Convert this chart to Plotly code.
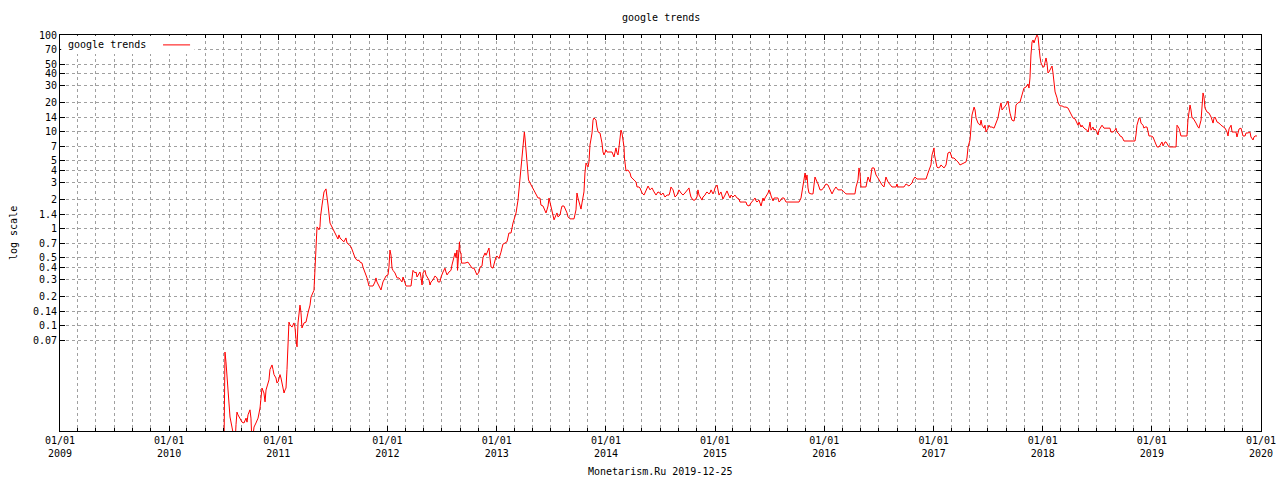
import numpy as np
import pandas as pd
import plotly.graph_objects as go

# ---- data (decimal year, search-interest value) ----
years_2010_2011 = [
    2010.502, 2010.511, 2010.520, 2010.530, 2010.539, 2010.548, 2010.557, 2010.575, 2010.594, 2010.603,
    2010.612, 2010.621, 2010.630, 2010.649, 2010.667, 2010.685, 2010.704, 2010.713, 2010.722, 2010.740,
    2010.749, 2010.759, 2010.777, 2010.795, 2010.814, 2010.832, 2010.841, 2010.850, 2010.868, 2010.878,
    2010.887, 2010.905, 2010.914, 2010.923, 2010.942, 2010.951, 2010.960, 2010.978, 2010.987, 2010.997,
    2011.015, 2011.024, 2011.033, 2011.052, 2011.061, 2011.070, 2011.079, 2011.088, 2011.097, 2011.107,
    2011.125, 2011.143, 2011.152, 2011.162, 2011.171, 2011.180, 2011.198, 2011.207, 2011.216, 2011.235,
    2011.253, 2011.271, 2011.290, 2011.299, 2011.308, 2011.326, 2011.336, 2011.345, 2011.349, 2011.354,
    2011.363, 2011.372, 2011.381, 2011.386, 2011.400, 2011.409, 2011.418, 2011.436, 2011.445, 2011.455,
    2011.473, 2011.491, 2011.510, 2011.528, 2011.546, 2011.555, 2011.565, 2011.583, 2011.601,
]
values_2010_2011 = [
    0.005, 0.053, 0.042, 0.030, 0.0225, 0.017, 0.0113, 0.0089, 0.006, 0.006,
    0.0094, 0.0127, 0.0119, 0.011, 0.010, 0.0098, 0.011, 0.010, 0.0119, 0.0134,
    0.011, 0.006, 0.0089, 0.0098, 0.011, 0.014, 0.0178, 0.0225, 0.020, 0.0162,
    0.0215, 0.0254, 0.0273, 0.035, 0.039, 0.035, 0.031, 0.0286, 0.0254, 0.026,
    0.031, 0.0286, 0.0254, 0.020, 0.0215, 0.0225, 0.035, 0.074, 0.108, 0.101,
    0.096, 0.106, 0.096, 0.071, 0.060, 0.106, 0.162, 0.137, 0.094, 0.106,
    0.108, 0.134, 0.162, 0.196, 0.206, 0.23, 0.39, 0.56, 0.73, 1.04,
    1.01, 0.97, 1.04, 1.32, 1.75, 2.12, 2.39, 2.57, 2.22, 1.75,
    1.14, 1.04, 0.97, 0.86, 0.78, 0.86, 0.80, 0.76, 0.73,
]

years_2011_2012 = [
    2011.619, 2011.629, 2011.647, 2011.665, 2011.684, 2011.702, 2011.720, 2011.739, 2011.748, 2011.766,
    2011.775, 2011.794, 2011.812, 2011.830, 2011.849, 2011.867, 2011.885, 2011.894, 2011.903, 2011.922,
    2011.940, 2011.949, 2011.958, 2011.977, 2011.986, 2012.004, 2012.013, 2012.022, 2012.032, 2012.041,
    2012.050, 2012.068, 2012.087, 2012.105, 2012.123, 2012.132, 2012.142, 2012.151, 2012.169, 2012.187,
    2012.215, 2012.224, 2012.233, 2012.252, 2012.261, 2012.270, 2012.288, 2012.297, 2012.306, 2012.316,
    2012.325, 2012.343, 2012.352, 2012.361, 2012.380, 2012.389, 2012.398, 2012.416, 2012.425, 2012.435,
    2012.453, 2012.462, 2012.480, 2012.490, 2012.508, 2012.526, 2012.535, 2012.545, 2012.563, 2012.581,
    2012.590, 2012.599, 2012.618, 2012.627, 2012.636, 2012.641, 2012.645, 2012.655, 2012.659, 2012.664,
    2012.673, 2012.677, 2012.691, 2012.709, 2012.737, 2012.755, 2012.774, 2012.792, 2012.801, 2012.819,
    2012.838, 2012.847, 2012.865, 2012.874, 2012.893, 2012.902, 2012.911, 2012.929, 2012.938, 2012.948,
    2012.966, 2012.984, 2012.993,
]
values_2011_2012 = [
    0.80, 0.71, 0.68, 0.65, 0.57, 0.50, 0.47, 0.47, 0.45, 0.44,
    0.40, 0.348, 0.309, 0.255, 0.255, 0.255, 0.281, 0.309, 0.281, 0.255,
    0.232, 0.255, 0.281, 0.309, 0.324, 0.332, 0.40, 0.60, 0.53, 0.39,
    0.37, 0.348, 0.309, 0.309, 0.294, 0.281, 0.316, 0.294, 0.255, 0.255,
    0.255, 0.309, 0.37, 0.348, 0.356, 0.316, 0.348, 0.356, 0.316, 0.261,
    0.348, 0.37, 0.332, 0.316, 0.294, 0.261, 0.281, 0.294, 0.316, 0.324,
    0.309, 0.281, 0.281, 0.316, 0.356, 0.39, 0.356, 0.332, 0.356, 0.37,
    0.42, 0.47, 0.56, 0.50, 0.60, 0.37, 0.47, 0.65, 0.73, 0.57,
    0.56, 0.44, 0.44, 0.44, 0.45, 0.42, 0.39, 0.39, 0.365, 0.332,
    0.356, 0.40, 0.41, 0.50, 0.56, 0.53, 0.56, 0.63, 0.50, 0.40,
    0.39, 0.45, 0.51,
]

years_2013_2015 = [
    2013.003, 2013.021, 2013.039, 2013.057, 2013.076, 2013.094, 2013.112, 2013.131, 2013.149, 2013.167,
    2013.177, 2013.195, 2013.204, 2013.213, 2013.222, 2013.231, 2013.241, 2013.247, 2013.253, 2013.259,
    2013.268, 2013.277, 2013.287, 2013.291, 2013.305, 2013.323, 2013.341, 2013.360, 2013.378, 2013.396,
    2013.405, 2013.424, 2013.433, 2013.451, 2013.460, 2013.470, 2013.479, 2013.488, 2013.506, 2013.515,
    2013.525, 2013.543, 2013.552, 2013.561, 2013.580, 2013.589, 2013.598, 2013.616, 2013.635, 2013.644,
    2013.653, 2013.671, 2013.689, 2013.708, 2013.726, 2013.735, 2013.744, 2013.763, 2013.772, 2013.781,
    2013.799, 2013.808, 2013.818, 2013.827, 2013.836, 2013.845, 2013.854, 2013.873, 2013.882, 2013.891,
    2013.909, 2013.918, 2013.928, 2013.946, 2013.964, 2013.973, 2013.983, 2014.001, 2014.010, 2014.028,
    2014.047, 2014.056, 2014.074, 2014.092, 2014.102, 2014.111, 2014.120, 2014.129, 2014.138, 2014.147,
    2014.157, 2014.166, 2014.170, 2014.175, 2014.184, 2014.202, 2014.221, 2014.230, 2014.239, 2014.257,
    2014.276, 2014.285, 2014.303, 2014.312, 2014.331, 2014.349, 2014.367, 2014.386, 2014.404, 2014.422,
    2014.441, 2014.459, 2014.477, 2014.495, 2014.505, 2014.523, 2014.532, 2014.541, 2014.560, 2014.578,
    2014.587, 2014.596, 2014.615, 2014.624, 2014.633, 2014.651, 2014.660, 2014.669, 2014.688, 2014.706,
    2014.724, 2014.743, 2014.761, 2014.770, 2014.779, 2014.798, 2014.816, 2014.834, 2014.843, 2014.853,
    2014.871, 2014.880, 2014.889, 2014.908, 2014.917, 2014.926, 2014.944, 2014.953, 2014.963, 2014.981,
    2014.990, 2014.999, 2015.018, 2015.027, 2015.036, 2015.054, 2015.063, 2015.072, 2015.091, 2015.100,
    2015.109, 2015.128, 2015.137, 2015.146, 2015.164, 2015.182, 2015.201, 2015.219, 2015.228, 2015.247,
    2015.265, 2015.283, 2015.292, 2015.311, 2015.329, 2015.347, 2015.366, 2015.375, 2015.384, 2015.402,
    2015.412, 2015.421, 2015.439, 2015.448, 2015.457, 2015.476, 2015.485, 2015.494, 2015.503, 2015.513,
    2015.531, 2015.540, 2015.558, 2015.576, 2015.586, 2015.604, 2015.613, 2015.631, 2015.650, 2015.668,
    2015.695, 2015.714, 2015.741, 2015.769, 2015.787, 2015.796, 2015.805, 2015.815, 2015.824, 2015.833,
    2015.842, 2015.851, 2015.860, 2015.879, 2015.897, 2015.906, 2015.915, 2015.934, 2015.943, 2015.961,
    2015.979, 2015.998,
]
values_2013_2015 = [
    0.52, 0.49, 0.57, 0.69, 0.71, 0.73, 0.90, 0.90, 1.14, 1.29,
    1.45, 1.97, 2.57, 3.03, 3.84, 4.88, 6.49, 8.63, 9.95, 8.63,
    6.49, 5.11, 3.84, 3.18, 2.96, 2.69, 2.45, 2.22, 2.07, 2.07,
    1.75, 1.71, 1.63, 1.45, 1.56, 1.71, 2.07, 1.84, 1.56, 1.38,
    1.23, 1.38, 1.45, 1.32, 1.38, 1.56, 1.71, 1.71, 1.56, 1.45,
    1.32, 1.26, 1.26, 1.26, 1.56, 2.33, 2.07, 1.67, 1.59, 1.84,
    2.39, 3.75, 4.76, 4.54, 4.33, 4.88, 7.30, 9.72, 13.2, 13.9,
    13.2, 11.2, 9.95, 9.72, 7.66, 6.18, 5.76, 6.49, 6.18, 6.18,
    6.18, 6.18, 5.49, 6.81, 6.04, 5.76, 6.97, 8.63, 10.4, 9.72,
    8.23, 6.97, 5.36, 4.54, 3.94, 4.03, 3.75, 3.41, 3.33, 3.18,
    3.03, 2.69, 2.69, 2.63, 2.33, 2.22, 2.51, 2.75, 2.51, 2.63,
    2.39, 2.22, 2.39, 2.33, 2.22, 2.33, 2.22, 2.12, 2.22, 2.22,
    2.39, 2.69, 2.51, 2.33, 2.12, 2.22, 2.39, 2.51, 2.33, 2.22,
    2.33, 2.51, 2.63, 2.33, 2.12, 1.97, 1.97, 2.12, 2.51, 2.22,
    2.07, 1.97, 2.12, 2.22, 2.33, 2.39, 2.28, 2.33, 2.51, 2.28,
    2.39, 2.63, 2.82, 2.51, 2.22, 2.39, 2.12, 2.02, 2.22, 2.33,
    2.45, 2.17, 2.07, 2.22, 2.12, 2.22, 2.07, 2.02, 1.88, 1.88,
    1.88, 1.88, 1.75, 1.71, 1.84, 1.93, 2.07, 1.93, 1.88, 1.97,
    1.84, 1.71, 2.07, 1.93, 2.07, 2.22, 2.33, 2.51, 2.39, 2.17,
    1.93, 2.07, 2.07, 2.07, 1.88, 1.97, 2.07, 2.07, 1.88, 1.88,
    1.88, 1.88, 1.88, 1.88, 2.07, 2.39, 2.82, 3.41, 3.75, 3.18,
    3.58, 2.63, 2.33, 2.28, 2.28, 2.82, 3.41, 3.03, 2.89, 2.51,
    2.51, 2.69,
]

years_2016_2017 = [
    2016.016, 2016.034, 2016.053, 2016.071, 2016.089, 2016.107, 2016.126, 2016.144, 2016.162, 2016.181,
    2016.199, 2016.217, 2016.254, 2016.281, 2016.291, 2016.309, 2016.318, 2016.327, 2016.336, 2016.355,
    2016.382, 2016.391, 2016.401, 2016.419, 2016.428, 2016.437, 2016.456, 2016.474, 2016.492, 2016.510,
    2016.529, 2016.547, 2016.556, 2016.565, 2016.584, 2016.602, 2016.620, 2016.639, 2016.657, 2016.666,
    2016.675, 2016.694, 2016.712, 2016.730, 2016.749, 2016.767, 2016.776, 2016.785, 2016.804, 2016.813,
    2016.831, 2016.849, 2016.868, 2016.895, 2016.913, 2016.932, 2016.950, 2016.968, 2016.977, 2016.987,
    2017.005, 2017.010, 2017.023, 2017.032, 2017.042, 2017.060, 2017.069, 2017.078, 2017.097, 2017.115,
    2017.124, 2017.133, 2017.152, 2017.161, 2017.170, 2017.188, 2017.207, 2017.225, 2017.243, 2017.262,
    2017.280, 2017.298, 2017.307, 2017.317, 2017.335, 2017.344, 2017.353, 2017.372, 2017.381, 2017.390,
    2017.408, 2017.427, 2017.436, 2017.445, 2017.463, 2017.472, 2017.482, 2017.500, 2017.509, 2017.518,
    2017.536, 2017.555, 2017.573, 2017.591, 2017.609, 2017.619, 2017.628, 2017.646, 2017.664, 2017.683,
    2017.692, 2017.701, 2017.719, 2017.738, 2017.747, 2017.756, 2017.774, 2017.793, 2017.811, 2017.829,
    2017.848, 2017.866, 2017.875, 2017.884, 2017.893, 2017.903, 2017.912, 2017.921, 2017.930, 2017.939,
    2017.948, 2017.958, 2017.967, 2017.976, 2017.985,
]
values_2016_2017 = [
    2.89, 2.82, 2.51, 2.28, 2.51, 2.69, 2.51, 2.51, 2.51, 2.39,
    2.28, 2.28, 2.28, 2.28, 2.69, 3.18, 4.23, 3.75, 2.69, 2.69,
    2.69, 3.03, 3.41, 3.03, 3.75, 4.23, 4.23, 3.58, 3.33, 3.03,
    2.82, 2.69, 2.96, 3.41, 3.03, 2.89, 2.69, 2.69, 2.69, 2.89,
    2.69, 2.69, 2.69, 2.69, 2.89, 2.82, 2.75, 2.82, 2.96, 3.18,
    3.41, 3.25, 3.25, 3.25, 3.25, 3.25, 3.75, 4.23, 4.54, 5.76,
    6.81, 5.76, 4.88, 4.33, 4.23, 4.33, 4.54, 4.43, 4.23, 4.54,
    5.36, 6.04, 6.18, 5.76, 5.36, 5.36, 5.11, 4.88, 4.54, 4.65,
    4.76, 4.88, 5.36, 6.97, 8.23, 11.2, 14.9, 18.0, 16.8, 13.9,
    12.3, 11.7, 13.2, 11.7, 10.9, 11.7, 9.95, 10.9, 11.7, 11.2,
    11.2, 10.9, 12.3, 13.9, 18.0, 19.9, 16.8, 17.6, 18.9, 20.8,
    18.0, 15.6, 13.2, 12.9, 14.6, 18.9, 19.9, 20.3, 24.0, 28.3,
    29.0, 31.2, 28.3, 36.0, 62.1, 84.7, 88.8, 82.7, 88.8, 95.3,
    100.0, 95.3, 70.0, 59.3, 51.4,
]

years_2018_2019 = [
    2018.003, 2018.012, 2018.022, 2018.031, 2018.040, 2018.049, 2018.058, 2018.077, 2018.086, 2018.095,
    2018.104, 2018.114, 2018.132, 2018.141, 2018.159, 2018.178, 2018.196, 2018.214, 2018.232, 2018.251,
    2018.269, 2018.278, 2018.297, 2018.315, 2018.324, 2018.333, 2018.352, 2018.361, 2018.370, 2018.388,
    2018.406, 2018.416, 2018.425, 2018.434, 2018.443, 2018.461, 2018.471, 2018.480, 2018.498, 2018.507,
    2018.516, 2018.535, 2018.544, 2018.562, 2018.581, 2018.599, 2018.617, 2018.626, 2018.645, 2018.663,
    2018.672, 2018.681, 2018.700, 2018.709, 2018.727, 2018.745, 2018.773, 2018.800, 2018.828, 2018.846,
    2018.855, 2018.864, 2018.883, 2018.892, 2018.901, 2018.919, 2018.928, 2018.938, 2018.956, 2018.965,
    2018.974, 2018.993, 2019.011, 2019.029, 2019.039, 2019.048, 2019.066, 2019.084, 2019.093, 2019.103,
    2019.121, 2019.130, 2019.139, 2019.158, 2019.176, 2019.194, 2019.212, 2019.222, 2019.231, 2019.249,
    2019.258, 2019.267, 2019.286, 2019.304, 2019.322, 2019.331, 2019.341, 2019.350, 2019.359, 2019.368,
    2019.377, 2019.396, 2019.405, 2019.423, 2019.432, 2019.451, 2019.460, 2019.469, 2019.478, 2019.487,
    2019.506, 2019.524, 2019.543, 2019.561, 2019.570, 2019.579, 2019.598, 2019.616, 2019.634, 2019.652,
    2019.671, 2019.689, 2019.698, 2019.707, 2019.726, 2019.735, 2019.753, 2019.771, 2019.780, 2019.799,
    2019.817, 2019.826, 2019.835, 2019.854, 2019.863, 2019.881, 2019.899, 2019.908, 2019.927, 2019.936,
    2019.945, 2019.963,
]
values_2018_2019 = [
    46.7, 46.7, 55.2, 57.9, 51.4, 40.5, 41.5, 45.6, 47.8, 40.5,
    32.7, 25.8, 22.4, 19.9, 18.5, 18.5, 18.0, 18.0, 17.6, 16.0,
    14.9, 13.9, 13.6, 12.3, 11.7, 12.6, 11.2, 11.7, 11.2, 10.7,
    10.4, 9.95, 11.7, 12.6, 10.4, 11.2, 10.4, 10.7, 9.95, 9.27,
    10.4, 11.2, 11.7, 10.9, 10.9, 10.9, 10.9, 9.95, 9.95, 10.4,
    10.9, 9.95, 9.49, 9.05, 8.84, 8.03, 8.03, 8.03, 8.03, 8.03,
    9.27, 11.7, 13.9, 13.9, 12.3, 11.7, 10.9, 11.2, 11.2, 9.95,
    9.05, 9.05, 8.84, 7.85, 7.30, 6.97, 6.97, 7.66, 7.85, 7.14,
    7.85, 7.85, 7.48, 6.97, 6.97, 6.97, 6.97, 6.97, 11.7, 10.9,
    9.95, 9.05, 9.05, 9.05, 9.05, 13.2, 15.6, 18.9, 16.8, 13.9,
    13.9, 12.9, 12.3, 11.2, 10.9, 13.2, 21.3, 25.2, 22.9, 17.6,
    16.0, 15.6, 14.2, 12.3, 13.9, 14.2, 12.6, 12.3, 11.7, 11.2,
    10.9, 9.95, 9.05, 10.7, 11.7, 9.95, 9.95, 9.95, 8.84, 10.7,
    10.9, 9.95, 9.05, 9.05, 9.72, 9.72, 9.95, 8.84, 8.23, 8.84,
    9.05, 9.05,
]

year_ticks = list(range(2009, 2021))
y_tick_values = [0.07, 0.1, 0.14, 0.2, 0.3, 0.4, 0.5, 0.7, 1, 1.4, 2, 3, 4, 5, 7, 10, 14, 20, 30, 40, 50, 70, 100]
y_tick_labels = ["0.07", "0.1", "0.14", "0.2", "0.3", "0.4", "0.5", "0.7", "1", "1.4", "2", "3", "4", "5",
                 "7", "10", "14", "20", "30", "40", "50", "70", "100"]

# ---- build series ----
years = np.array(years_2010_2011 + years_2011_2012 + years_2013_2015 + years_2016_2017 + years_2018_2019)
values = np.array(values_2010_2011 + values_2011_2012 + values_2013_2015 + values_2016_2017 + values_2018_2019)
base = pd.Timestamp("2009-01-01")
dates = base + pd.to_timedelta((years - 2009) * 365.18, unit="D")

FONT = "DejaVu Sans Mono"
GRID = "#a0a0a0"

fig = go.Figure()
fig.add_trace(go.Scatter(x=dates, y=values, mode="lines", name="google trends",
                         line=dict(color="#ff0000", width=1), showlegend=False))

tickvals_x = [pd.Timestamp(f"{y}-01-01") for y in year_ticks]
ticktext_x = [f"01/01<br>{y}" for y in year_ticks]

fig.update_layout(
    width=1280, height=480,
    margin=dict(l=60, r=19, t=35, b=49, autoexpand=False),
    paper_bgcolor="white", plot_bgcolor="white",
    font=dict(family=FONT, size=10, color="black"),
    xaxis=dict(
        type="date", range=[pd.Timestamp("2009-01-01"), pd.Timestamp("2020-01-01")],
        tickvals=tickvals_x, ticktext=ticktext_x, tickangle=0, automargin=False,
        ticks="inside", ticklen=5, tickcolor="black",
        showline=True, linecolor="black", linewidth=1, mirror="ticks",
        showgrid=True, gridcolor=GRID, griddash="3px,3px", gridwidth=1,
        minor=dict(dtick="M2", tick0="2009-01-01", ticks="inside", ticklen=3, tickcolor="black",
                   showgrid=True, gridcolor=GRID, griddash="3px,3px", gridwidth=1),
        zeroline=False,
    ),
    yaxis=dict(
        type="log", range=[np.log10(0.0081), 2], automargin=False,
        tickvals=y_tick_values, ticktext=y_tick_labels,
        ticks="inside", ticklen=5, tickcolor="black",
        showline=True, linecolor="black", linewidth=1, mirror="ticks",
        showgrid=True, gridcolor=GRID, griddash="3px,3px", gridwidth=1,
        zeroline=False,
    ),
    shapes=[
        dict(type="rect", xref="paper", yref="paper", x0=0.001, x1=0.112, y0=0.952, y1=0.998,
             fillcolor="white", line=dict(width=0), layer="above"),
        dict(type="line", xref="paper", yref="paper", x0=0.0858, x1=0.1083, y0=0.975, y1=0.975,
             line=dict(color="#ff0000", width=1), layer="above"),
    ],
    annotations=[
        dict(text="google trends", xref="paper", yref="paper", x=0.005, y=0.975,
             xanchor="left", yanchor="middle", showarrow=False, font=dict(family=FONT, size=10)),
        dict(text="google trends", xref="paper", yref="paper", x=0.5, y=1.0 + 18 / 396,
             xanchor="center", yanchor="middle", showarrow=False, font=dict(family=FONT, size=10)),
        dict(text="log scale", xref="paper", yref="paper", x=-47 / 1201, y=0.5,
             xanchor="center", yanchor="middle", textangle=-90, showarrow=False,
             font=dict(family=FONT, size=10)),
        dict(text="Monetarism.Ru 2019-12-25", xref="paper", yref="paper", x=0.5, y=-40 / 396,
             xanchor="center", yanchor="middle", showarrow=False, font=dict(family=FONT, size=10)),
    ],
)

fig.write_html(
    "out.html",
    config={"displayModeBar": False},
    post_script="document.body.style.margin='0';document.body.style.padding='0';",
)
